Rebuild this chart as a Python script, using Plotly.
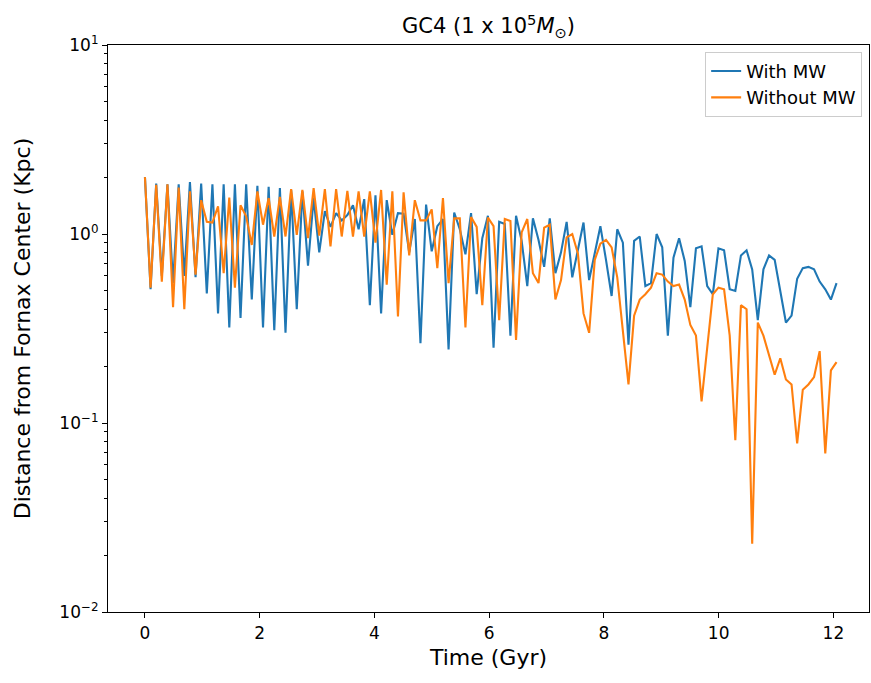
import plotly.graph_objects as go

dt = 0.098
with_mw = [2.0, 0.51, 1.85, 0.6, 1.83, 0.55, 1.83, 0.6, 1.88, 0.59,
           1.85, 0.485, 1.83, 0.38, 1.83, 0.32, 1.83, 0.36, 1.83, 0.45,
           1.80, 0.32, 1.78, 0.31, 1.75, 0.30, 1.71, 0.40, 1.68, 0.68,
           1.55, 0.80, 1.32, 1.09, 1.29, 1.18, 1.26, 1.42, 1.06, 1.53,
           0.42, 1.6, 0.38, 1.51, 0.99, 1.29, 1.28, 0.8, 1.2, 0.264,
           1.43, 0.81, 1.1, 1.2, 0.245, 1.3, 1.06, 0.78, 1.29, 0.48,
           0.95, 1.25, 0.25, 1.16, 1.13, 0.29, 1.25, 0.92, 0.53, 1.21,
           0.93, 0.67, 1.21, 0.62, 0.8, 1.16, 0.59, 0.84, 1.15, 0.57,
           0.78, 1.1, 0.73, 0.47, 1.06, 0.9, 0.26, 0.92, 0.97, 0.53,
           0.55, 1.0, 0.85, 0.29, 0.75, 0.95, 0.72, 0.41, 0.84, 0.86,
           0.53, 0.48, 0.84, 0.82, 0.51, 0.50, 0.77, 0.82, 0.65, 0.35,
           0.65, 0.77, 0.73, 0.51, 0.34, 0.37, 0.58, 0.66, 0.67, 0.65,
           0.56, 0.51, 0.45, 0.55]
without_mw = [2.0, 0.52, 1.82, 0.56, 1.83, 0.41, 1.76, 0.40, 1.68, 0.61,
              1.51, 1.16, 1.15, 1.40, 0.62, 1.56, 0.52, 1.42, 1.24, 0.875,
              1.68, 1.12, 1.55, 0.97, 1.57, 0.97, 1.73, 0.99, 1.71, 0.95,
              1.75, 0.98, 1.73, 0.86, 1.73, 0.97, 1.69, 0.97, 1.68, 0.97,
              1.68, 0.9, 1.71, 0.54, 1.68, 0.366, 1.66, 0.77, 1.51, 1.18,
              1.18, 1.35, 0.66, 1.55, 0.55, 1.21, 1.21, 0.32, 1.23, 1.09,
              0.42, 1.22, 1.1, 0.35, 1.2, 1.17, 0.275, 1.02, 1.2, 0.62,
              0.55, 1.08, 1.12, 0.45, 0.57, 0.96, 1.0, 0.79, 0.38, 0.30,
              0.73, 0.89, 0.93, 0.85, 0.59, 0.32, 0.16, 0.37, 0.45, 0.48,
              0.52, 0.62, 0.61, 0.56, 0.53, 0.54, 0.45, 0.33, 0.29, 0.13,
              0.245, 0.48, 0.52, 0.51, 0.29, 0.081, 0.42, 0.40, 0.023, 0.34,
              0.29, 0.225, 0.18, 0.22, 0.17, 0.16, 0.078, 0.15, 0.16, 0.175,
              0.24, 0.069, 0.19, 0.21]
time = [i * dt for i in range(len(with_mw))]

x_ticks = [0, 2, 4, 6, 8, 10, 12]
y_ticks = [0.01, 0.1, 1, 10]
y_tick_text = ["10<sup>−2</sup>", "10<sup>−1</sup>", "10<sup>0</sup>", "10<sup>1</sup>"]
minor_vals = [m * d for d in (0.01, 0.1, 1) for m in range(2, 10)]

fig = go.Figure()
fig.add_trace(go.Scatter(x=time, y=with_mw, mode="lines", name="With MW",
                         line=dict(color="#1f77b4", width=2.1)))
fig.add_trace(go.Scatter(x=time, y=without_mw, mode="lines", name="Without MW",
                         line=dict(color="#ff7f0e", width=2.1)))

font = "DejaVu Sans, sans-serif"
tick_font = dict(family=font, size=17, color="black")
fig.update_layout(
    width=871, height=683,
    margin=dict(l=108, r=2, t=45, b=71),
    plot_bgcolor="white", paper_bgcolor="white",
    font=dict(family=font, size=18, color="black"),
    title=dict(text="GC4 (1 x 10<sup>5</sup><i>M</i><sub>⊙</sub>)",
               x=(108 + 869) / 2 / 871, xanchor="center", y=1 - 26 / 683, yanchor="middle",
               font=dict(family=font, size=21, color="black")),
    showlegend=True,
    legend=dict(x=0.991, xanchor="right", y=0.988, yanchor="top",
                bgcolor="rgba(255,255,255,0.8)", bordercolor="#cccccc", borderwidth=1,
                font=dict(family=font, size=18, color="black"), tracegroupgap=3),
    xaxis=dict(range=[-0.644, 12.62], tickvals=x_ticks, ticks="outside", ticklen=5,
               tickwidth=1, tickcolor="black", tickfont=tick_font, showgrid=False, zeroline=False,
               showline=True, linecolor="black", linewidth=1.2, mirror=True,
               title=dict(text="Time (Gyr)", standoff=8)),
    yaxis=dict(type="log", range=[-2, 1], tickvals=y_ticks, ticktext=y_tick_text,
               ticks="outside", ticklen=5, tickwidth=1, tickcolor="black", tickfont=tick_font,
               minor=dict(tickvals=minor_vals, ticks="outside", ticklen=3, tickcolor="black", showgrid=False),
               showgrid=False, zeroline=False, showline=True, linecolor="black",
               linewidth=1.2, mirror=True,
               title=dict(text="Distance from Fornax Center (Kpc)", standoff=22)),
)
fig.write_html("out.html")
